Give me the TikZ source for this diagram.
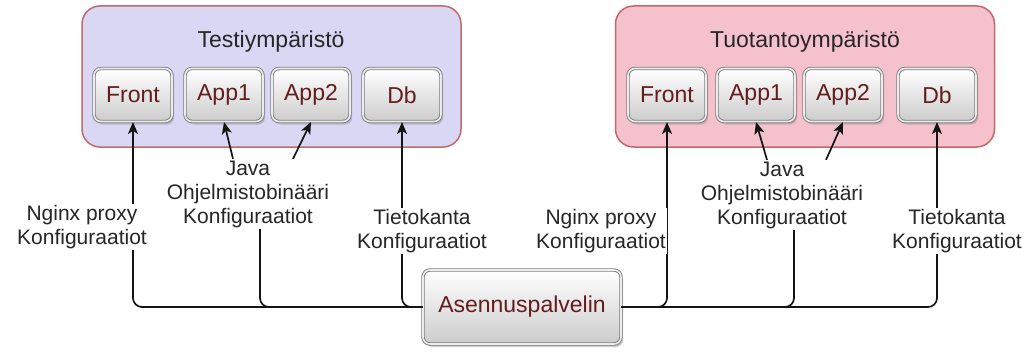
\documentclass[tikz,border=0pt]{standalone}
\usepackage{fontspec}
\setmainfont{Liberation Sans}
\usetikzlibrary{arrows.meta,shadows}
\pgfdeclarelayer{back}\pgfdeclarelayer{conn}\pgfdeclarelayer{lab}
\pgfsetlayers{back,main,conn,lab}
\definecolor{envborder}{RGB}{196,104,108}
\definecolor{testfill}{RGB}{217,215,243}
\definecolor{prodfill}{RGB}{245,193,204}
\definecolor{srvtext}{RGB}{100,28,28}
\definecolor{srvborder}{RGB}{125,125,125}
\begin{document}
\begin{tikzpicture}[x=1pt,y=-1pt,
  env/.style={draw=envborder, line width=1.5pt, rounded corners=18pt, minimum width=379pt, minimum height=141pt},
  envtitle/.style={font=\fontsize{23}{26}\selectfont, text=black!85},
  srv/.style={draw=srvborder, line width=0.9pt, double=white!85!gray, double distance=1.6pt,
    rounded corners=7pt, top color=white, bottom color=black!20, minimum width=78pt, minimum height=53pt,
    text=srvtext, font=\fontsize{23}{26}\selectfont,
    drop shadow={shadow xshift=2pt, shadow yshift=-3pt, opacity=0.4}},
  conn/.style={line width=1.7pt, draw=black!92, rounded corners=9pt},
  arr/.style={conn, -{Stealth[length=12pt,width=10pt,inset=3pt]}},
  lbl/.style={fill=white, inner sep=1.5pt, align=center, font=\fontsize{21}{24}\selectfont, text=black!85}]
\useasboundingbox (0,0) rectangle (1034,353);
\begin{pgfonlayer}{back}
\node[env, fill=testfill] (testenv) at (271.5,76.5) {};
\node[env, fill=prodfill] (prodenv) at (805,76.5) {};
\end{pgfonlayer}
\node[envtitle] (testtitle) at (271,42) {Testiympäristö};
\node[envtitle] (prodtitle) at (805,42) {Tuotantoympäristö};
% test env servers
\node[srv] (fl) at (133,95) {Front};
\node[srv] (a1l) at (224,95) {App1};
\node[srv] (a2l) at (311,95) {App2};
\node[srv] (dbl) at (402,95) {Db};
% prod env servers
\node[srv] (fr) at (667,95) {Front};
\node[srv] (a1r) at (756,95) {App1};
\node[srv] (a2r) at (843,95) {App2};
\node[srv] (dbr) at (937,95) {Db};
% install server
\node[srv, minimum width=198pt, minimum height=74pt] (asp) at (522,307) {Asennuspalvelin};
% labels
\begin{pgfonlayer}{lab}
\node[lbl] (ngl) at (82,227) {Nginx proxy\\Konfiguraatiot};
\node[lbl] (javal) at (248,194) {Java\\Ohjelmistobinääri\\Konfiguraatiot};
\node[lbl] (tkl) at (422,231) {Tietokanta\\Konfiguraatiot};
\node[lbl] (ngr) at (601,231) {Nginx proxy\\Konfiguraatiot};
\node[lbl] (javar) at (782,195) {Java\\Ohjelmistobinääri\\Konfiguraatiot};
\node[lbl] (tkr) at (957,231) {Tietokanta\\Konfiguraatiot};
\end{pgfonlayer}
% connectors
\begin{pgfonlayer}{conn}
\draw[arr] (asp.west) -| (fl.south);
\draw[conn] (asp.west) -| ([xshift=12pt]javal.south);
\draw[arr] (asp.west) -| (dbl.south);
\draw[arr] ([xshift=-15pt]javal.north) -- (a1l.south);
\draw[arr] ([xshift=45pt]javal.north) -- (a2l.south);
\draw[arr] (asp.east) -| (fr.south);
\draw[conn] (asp.east) -| ([xshift=12pt]javar.south);
\draw[arr] (asp.east) -| (dbr.south);
\draw[arr] ([xshift=-15pt]javar.north) -- (a1r.south);
\draw[arr] ([xshift=44pt]javar.north) -- (a2r.south);
\end{pgfonlayer}
\end{tikzpicture}
\end{document}
